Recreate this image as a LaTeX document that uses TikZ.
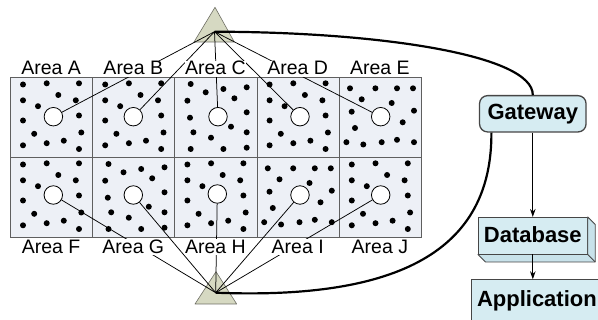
\documentclass[tikz,border=0pt]{standalone}
\usepackage{fontspec}
\setmainfont{Liberation Sans}
\usetikzlibrary{arrows.meta,calc}

\definecolor{cellfill}{RGB}{237,240,246}
\definecolor{gridline}{RGB}{95,95,95}
\definecolor{prism}{RGB}{214,217,194}
\definecolor{prismline}{RGB}{110,110,100}
\definecolor{boxfill}{RGB}{214,236,242}
\definecolor{boxside}{RGB}{200,226,234}
\definecolor{boxline}{RGB}{70,70,70}

\tikzset{
  area/.style={draw=gridline, line width=0.8pt, fill=cellfill,
    minimum width=82.2pt, minimum height=80pt, inner sep=0pt, anchor=north west},
  hole/.style={circle, draw=black, line width=0.8pt, fill=white,
    minimum size=18.5pt, inner sep=0pt},
  link/.style={line width=0.75pt, draw=black},
  trunk/.style={line width=2.2pt, draw=black},
  arealabel/.style={fill=white, inner sep=0.6pt, text height=13.8pt, text depth=1pt,
    font=\fontsize{19.5}{22}\selectfont, anchor=base},
  sink/.style={draw=prismline, line width=0.6pt, fill=prism, line join=round},
  flowbox/.style={fill=boxfill, draw=boxline, inner sep=0pt,
    font=\bfseries\fontsize{22}{26}\selectfont, text height=15.8pt},
  flowarrow/.style={line width=1pt, draw=black, -{Stealth[length=8pt,width=5.5pt]}},
}

% dot layouts, given relative to the north-west corner of a cell
\newcommand\dotsPlain[1]{%
  \foreach \p/\q in {13/7.5,36.7/6.3,69/6.3,48.3/18,13/23.3,28/29.2,65.8/23.3,
      69/38.5,13/43.5,24.2/56.8,71.3/55.5,36.7/66.2,53.8/63.7,13/68.3,69/72}
    {\fill ([shift={(\p,\q)}]#1.north west) circle (3pt);}}
\newcommand\dotsMixed[1]{%
  \foreach \p/\q in {16.3/7,31.3/15.3,49/12,72.3/10.3,60/21.3,13/23.7,72.3/35.3,
      15.6/40.7,56.6/49.7,72.3/55.3,19/55.3,36.6/60.7,16.3/72,49/72,72.3/70.7}
    {\fill ([shift={(\p,\q)}]#1.north west) circle (3pt);}}
\newcommand\dotsEdge[1]{%
  \foreach \p/\q in {11.2/11.3,36.6/11.3,58.2/11.3,74.2/11.3,22.9/22.3,52.9/26,
      12.9/34.7,75.2/33.7,63.9/45.3,16.2/51,7.6/65.2,24.5/67.5,42.9/65.2,58.2/62.8,75.2/65.2}
    {\fill ([shift={(\p,\q)}]#1.north west) circle (3pt);}}

\begin{document}
\begin{tikzpicture}[x=1pt, y=-1pt]
\useasboundingbox (0,0) rectangle (598,320);
\fill[white] (0,0) rectangle (598,320);

% the ten areas
\node[area] (cA) at (10,77) {};
\node[area] (cB) at (92.2,77) {};
\node[area] (cC) at (174.4,77) {};
\node[area] (cD) at (256.6,77) {};
\node[area] (cE) at (338.8,77) {};
\node[area] (cF) at (10,157) {};
\node[area] (cG) at (92.2,157) {};
\node[area] (cH) at (174.4,157) {};
\node[area] (cI) at (256.6,157) {};
\node[area] (cJ) at (338.8,157) {};

\dotsPlain{cA} \dotsPlain{cB} \dotsMixed{cC} \dotsPlain{cD} \dotsEdge{cE}
\dotsPlain{cF} \dotsMixed{cG} \dotsPlain{cH} \dotsEdge{cI} \dotsPlain{cJ}

% sinks
\filldraw[sink] (194,42) -- (215,7.3) -- (234.3,42) -- cycle;
\filldraw[sink] (195,304) -- (216,271.7) -- (236.7,304) -- cycle;
\coordinate (ts) at (214.5,31.7);
\coordinate (bs) at (215.7,292.7);

% cluster heads
\node[hole] (hA) at ([shift={(43.4,39.7)}]cA.north west) {};
\node[hole] (hB) at ([shift={(41.1,39.7)}]cB.north west) {};
\node[hole] (hC) at ([shift={(43.6,39.7)}]cC.north west) {};
\node[hole] (hD) at ([shift={(43.4,39.7)}]cD.north west) {};
\node[hole] (hE) at ([shift={(41.9,39.7)}]cE.north west) {};
\node[hole] (hF) at ([shift={(43.3,38)}]cF.north west) {};
\node[hole] (hG) at ([shift={(41.1,38)}]cG.north west) {};
\node[hole] (hH) at ([shift={(42.9,37)}]cH.north west) {};
\node[hole] (hI) at ([shift={(43.4,38)}]cI.north west) {};
\node[hole] (hJ) at ([shift={(41.9,38)}]cJ.north west) {};

% links from heads to sinks
\foreach \h in {hA,hB,hC,hD,hE} \draw[link] (ts) -- (\h);
\foreach \h in {hF,hG,hH,hI,hJ} \draw[link] (bs) -- (\h);

% area names
\node[arealabel] (lA) at ([shift={(41.1,-2)}]cA.north west) {Area A};
\node[arealabel] (lB) at ([shift={(41.1,-2)}]cB.north west) {Area B};
\node[arealabel] (lC) at ([shift={(41.1,-2)}]cC.north west) {Area C};
\node[arealabel] (lD) at ([shift={(41.1,-2)}]cD.north west) {Area D};
\node[arealabel] (lE) at ([shift={(41.1,-2)}]cE.north west) {Area E};
\node[arealabel] (lF) at ([shift={(41.1,15.3)}]cF.south west) {Area F};
\node[arealabel] (lG) at ([shift={(41.1,15.3)}]cG.south west) {Area G};
\node[arealabel] (lH) at ([shift={(41.1,15.3)}]cH.south west) {Area H};
\node[arealabel] (lI) at ([shift={(41.1,15.3)}]cI.south west) {Area I};
\node[arealabel] (lJ) at ([shift={(41.1,15.3)}]cJ.south west) {Area J};

% back end
\node[flowbox, rounded corners=8pt, line width=1.3pt, minimum width=106.5pt,
  minimum height=36.3pt, text depth=4.8pt] (gw) at (532.8,113.8) {Gateway};
\node[flowbox, line width=0.8pt, minimum width=109pt, minimum height=36.7pt,
  text depth=2.6pt] (db) at (532.8,235.7) {Database};
\filldraw[fill=boxside, draw=boxline, line width=0.8pt, line join=round]
  (db.north east) -- ([shift={(7.5,7.5)}]db.north east)
  -- ([shift={(7.5,7.5)}]db.south east) -- ([shift={(7.5,7.5)}]db.south west)
  -- (db.south west) -- (db.south east) -- cycle;
\draw[draw=boxline, line width=0.8pt] (db.south east) -- ([shift={(7.5,7.5)}]db.south east);
\node[flowbox, line width=0.8pt, minimum width=131pt, minimum height=46pt,
  anchor=north west, text depth=8.4pt] (app) at (471,279.3) {Application};

\draw[flowarrow] (gw.south) -- (db.north);
\draw[flowarrow] (db.south) -- (db.south |- app.north);

% trunks to the gateway
\draw[trunk] (ts) .. controls (380,32) and (533,55) .. (gw.north);
\draw[trunk] (bs) .. controls (400,300) and (492,250) .. ([xshift=12.5pt]gw.south west);
\end{tikzpicture}
\end{document}
